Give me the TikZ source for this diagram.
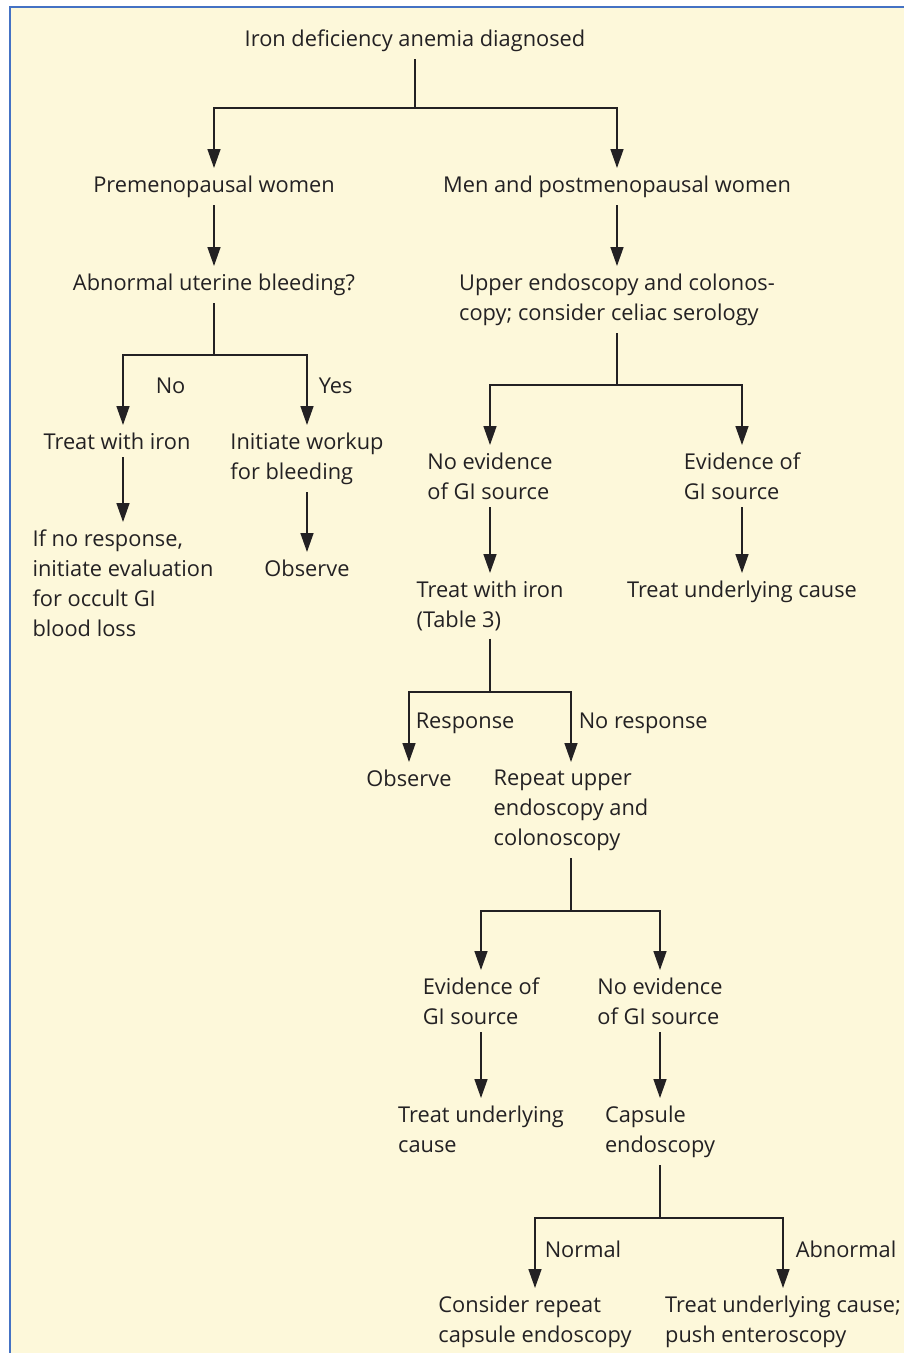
\documentclass[tikz,border=0pt]{standalone}
\usepackage{fontspec}
\setmainfont{Open Sans}
\usetikzlibrary{arrows.meta}
\definecolor{creamfill}{RGB}{253,248,218}
\definecolor{frameblue}{RGB}{68,114,196}
\definecolor{inkgray}{RGB}{35,33,35}
\tikzset{
  box/.style={inner sep=7pt, align=left, anchor=north, text=inkgray,
    font=\fontsize{21.8}{30}\selectfont},
  lbl/.style={inner sep=0pt, anchor=west, text=inkgray,
    font=\fontsize{21.8}{30}\selectfont},
}
\begin{document}
\begin{tikzpicture}[>={Triangle[width=13pt,length=19pt]},x=1pt,y=-1pt,line width=1.5pt]
  % page and frame
  \useasboundingbox (0,0) rectangle (904,1353);
  \fill[white] (0,0) rectangle (904,1353);
  \fill[creamfill] (10,7) rectangle (904,1353);
  \draw[frameblue,line width=2pt] (10,1353) -- (10,7) -- (904,7);

  % nodes
  \node[box] (iron) at (415,22) {Iron deficiency anemia diagnosed};
  \node[box] (pre) at (214,168) {Premenopausal women};
  \node[box] (men) at (617,168) {Men and postmenopausal women};
  \node[box] (aub) at (214,266) {Abnormal uterine bleeding?};
  \node[box] (upper) at (617,266) {Upper endoscopy and colonos-\\copy; consider celiac serology};
  \node[box] (treat1) at (117,425) {Treat with iron};
  \node[box] (workup) at (307,425) {Initiate workup\\for bleeding};
  \node[box] (noresp) at (123,522) {If no response,\\initiate evaluation\\for occult GI\\blood loss};
  \node[box] (obs1) at (307,552) {Observe};
  \node[box] (noev1) at (490,445) {No evidence\\of GI source};
  \node[box] (ev1) at (742,445) {Evidence of\\GI source};
  \node[box] (iron2) at (490,573) {Treat with iron\\(Table 3)};
  \node[box] (cause1) at (742,573) {Treat underlying cause};
  \node[box] (obs2) at (409,762) {Observe};
  \node[box] (repeat) at (571,762) {Repeat upper\\endoscopy and\\colonoscopy};
  \node[box] (ev2) at (481,970) {Evidence of\\GI source};
  \node[box] (noev2) at (660,970) {No evidence\\of GI source};
  \node[box] (cause2) at (481,1098) {Treat underlying\\cause};
  \node[box] (capsule) at (660,1098) {Capsule\\endoscopy};
  \node[box] (repcap) at (535,1288) {Consider repeat\\capsule endoscopy};
  \node[box] (push) at (783,1288) {Treat underlying cause;\\push enteroscopy};

  % branch labels
  \node[lbl] (no) at (155,386) {No};
  \node[lbl] (yes) at (318,386) {Yes};
  \node[lbl] (resp) at (415,723) {Response};
  \node[lbl] (noresplbl) at (578,723) {No response};
  \node[lbl] (normal) at (544,1249) {Normal};
  \node[lbl] (abnormal) at (795,1249) {Abnormal};

  % junctions
  \coordinate (j1) at (415,108);
  \coordinate (j2) at (214,355);
  \coordinate (j3) at (617,385);
  \coordinate (j4) at (490,692);
  \coordinate (j5) at (571,911);
  \coordinate (j6) at (660,1218);

  % connectors
  \begin{scope}[draw=inkgray]
    \draw (iron) -- (j1);
    \draw[->] (j1) -| (pre);
    \draw[->] (j1) -| (men);
    \draw[->] (pre) -- (aub);
    \draw[->] (men) -- (upper);
    \draw (aub) -- (j2);
    \draw[->] (j2) -| (noresp.north |- treat1.north);
    \draw[->] (j2) -| (workup);
    \draw[->] (treat1.south -| noresp.north) -- (noresp);
    \draw[->] (workup) -- (obs1);
    \draw (upper) -- (j3);
    \draw[->] (j3) -| (noev1);
    \draw[->] (j3) -| (ev1);
    \draw[->] (noev1) -- (iron2);
    \draw[->] (ev1) -- (cause1);
    \draw (iron2) -- (j4);
    \draw[->] (j4) -| (obs2);
    \draw[->] (j4) -| (repeat);
    \draw (repeat) -- (j5);
    \draw[->] (j5) -| (ev2);
    \draw[->] (j5) -| (noev2);
    \draw[->] (ev2) -- (cause2);
    \draw[->] (noev2) -- (capsule);
    \draw (capsule) -- (j6);
    \draw[->] (j6) -| (repcap);
    \draw[->] (j6) -| (push);
  \end{scope}
\end{tikzpicture}
\end{document}
